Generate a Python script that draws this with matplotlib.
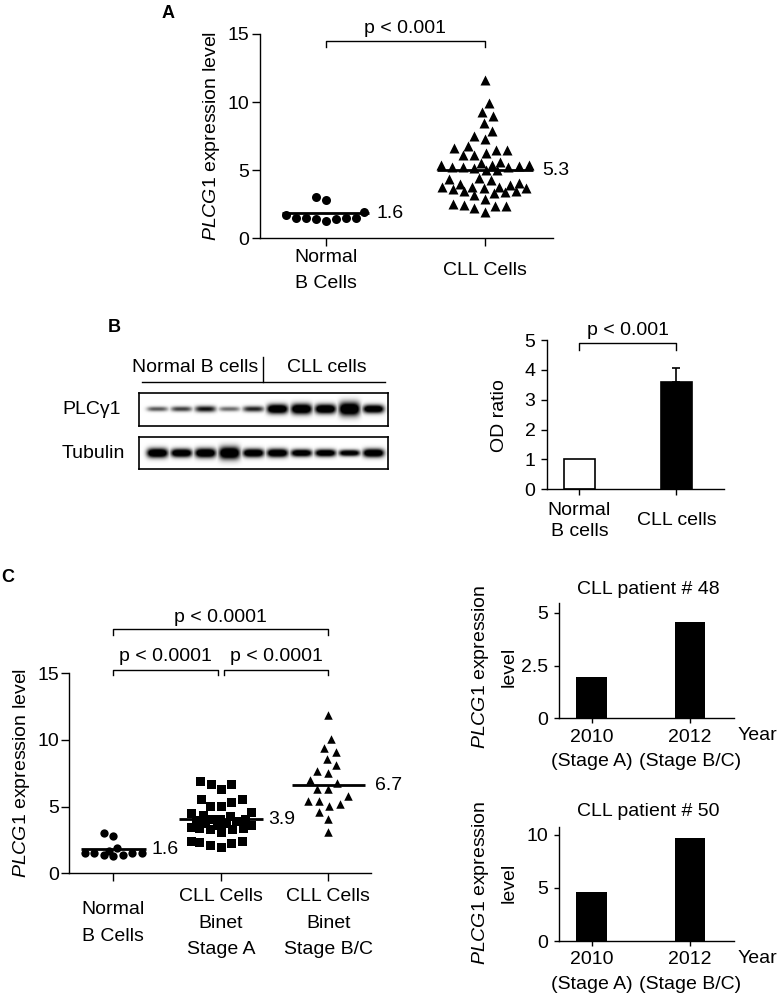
import numpy as np
import matplotlib
matplotlib.use('Agg')
import matplotlib.pyplot as plt
from matplotlib.transforms import blended_transform_factory

plt.rcParams['font.family'] = ['Liberation Sans', 'DejaVu Sans']
plt.rcParams['font.size'] = 14
plt.rcParams['mathtext.fontset'] = 'custom'
plt.rcParams['mathtext.rm'] = 'Liberation Sans'
plt.rcParams['mathtext.it'] = 'Liberation Sans:italic'
plt.rcParams['axes.linewidth'] = 1.0

W, H = 778, 1000

# ---- data ----
# panel A / C: PLCG1 expression level
normal_b = [1.9, 1.5, 1.5, 1.4, 1.3, 1.4, 1.5, 1.5, 1.7, 3.0, 2.8]
cll_all = [11.6, 9.9, 9.25, 8.95, 8.45, 7.9, 7.5, 7.3,
           6.8, 6.5, 6.25, 6.1, 6.1, 6.5, 6.6,
           5.6, 5.4, 5.3, 5.25, 5.2, 5.0, 5.0, 5.15, 5.25, 5.35, 5.4, 5.5,
           4.4, 4.25, 4.0, 3.8, 3.7, 3.7, 3.8, 3.9, 4.05, 4.35,
           3.75, 3.45, 3.4, 3.15, 3.6, 3.35, 3.45,
           2.85, 2.45, 2.5, 2.35, 2.4, 2.2, 1.95]
a_groups = ['Normal\nB Cells', 'CLL Cells']
a_lines = [1.85, 5.0]
a_line_labels = ['1.6', '5.3']

stage_a = [6.7, 6.3, 6.7, 6.95, 5.6, 5.05, 5.05, 5.35, 5.6, 4.55, 4.6,
           4.35, 4.05, 3.8, 3.8, 4.05, 4.1, 4.3, 3.9, 3.6, 3.65, 4.0,
           3.4, 3.3, 3.1, 3.3, 3.4, 3.5,
           2.4, 2.25, 1.95, 2.1, 2.35, 2.4]
stage_bc = [11.85, 10.05, 9.1, 9.4, 8.6, 8.1, 7.5, 7.65, 7.0, 6.8,
            6.35, 6.3, 5.8, 5.45, 5.45, 5.05, 5.2, 4.6, 4.1, 3.1]
c_groups = ['Normal\nB Cells', 'CLL Cells\nBinet\nStage A', 'CLL Cells\nBinet\nStage B/C']
c_lines = [1.8, 4.05, 6.62]
c_line_labels = ['1.6', '3.9', '6.7']

# panel B: blot band strength (0-1) per lane and OD ratio
lanes = ['N1', 'N2', 'N3', 'N4', 'N5', 'C1', 'C2', 'C3', 'C4', 'C5']
plc_level = [0.45, 0.52, 0.65, 0.4, 0.6, 1.0, 1.0, 1.0, 1.0, 0.95]
plc_thick = [2.3, 2.5, 3.0, 2.3, 2.8, 4.5, 5.0, 4.5, 6.5, 4.0]
tub_level = [1.0, 1.0, 1.0, 1.0, 1.0, 1.0, 0.95, 0.95, 0.9, 1.0]
tub_thick = [4.5, 4.0, 4.5, 6.0, 4.0, 4.0, 3.5, 3.5, 3.0, 4.0]
od_groups = ['Normal\nB cells', 'CLL cells']
od_mean = [1.0, 3.6]
od_err = [0.0, 0.45]

# panel C right: single patients
years = ['2010', '2012']
stages = ['(Stage A)', '(Stage B/C)']
patient48 = [1.94, 4.58]
patient50 = [4.65, 9.69]

fig = plt.figure(figsize=(W / 100, H / 100), dpi=100)


def axes_px(x0, y0, x1, y1):
    return fig.add_axes([x0 / W, 1 - y1 / H, (x1 - x0) / W, (y1 - y0) / H])


def style(ax, tick_len, xpad, ypad):
    for s in ['top', 'right']:
        ax.spines[s].set_visible(False)
    ax.tick_params(direction='out', width=1.0, color='black')
    ax.tick_params(axis='x', length=tick_len, pad=xpad)
    ax.tick_params(axis='y', length=tick_len, pad=ypad)


def swarm_x(ax, xc, vals, d, maxw):
    # beeswarm in pixel space, kept within +-maxw pixels
    vals = np.asarray(vals, float)
    pts = ax.transData.transform(np.column_stack([np.full(len(vals), xc), vals]))
    grid = np.arange(-maxw, maxw + 0.01, 0.5)
    placed = []
    off = np.zeros(len(vals))
    for i in np.argsort(vals):
        y = pts[i, 1]
        near = np.array([(px, py) for px, py in placed if abs(py - y) < d]).reshape(-1, 2)
        if len(near) == 0:
            c = 0.0
        else:
            dist = np.sqrt((grid[:, None] - near[None, :, 0]) ** 2 +
                           (y - near[None, :, 1]) ** 2).min(axis=1)
            ok = dist >= d - 1e-6
            if ok.any():
                c = grid[ok][np.argmin(np.abs(grid[ok]))]
            else:
                c = grid[np.argmax(dist)]
        placed.append((c, y))
        off[i] = c
    back = ax.transData.inverted().transform(np.column_stack([pts[:, 0] + off, pts[:, 1]]))
    return back[:, 0]


def swarm_group(ax, xc, vals, marker, size_px, d, maxw):
    xs = swarm_x(ax, xc, vals, d, maxw)
    ax.scatter(xs, vals, marker=marker, s=(size_px * 0.72) ** 2, color='black',
               linewidths=0, clip_on=False, zorder=3)


def median(ax, xc, hw, m, label, gap):
    ax.plot([xc - hw, xc + hw], [m, m], color='black', lw=2.0,
            solid_capstyle='butt', zorder=4, clip_on=False)
    ax.annotate(label, (xc + hw, m), xytext=(gap, 0), textcoords='offset points',
                ha='left', va='center', annotation_clip=False)


def bracket(ax, x0, x1, y, drop, text, ty):
    ax.plot([x0, x0, x1, x1], [y - drop, y, y, y - drop], color='black', lw=1.0,
            clip_on=False)
    ax.text((x0 + x1) / 2, ty, text, ha='center', va='baseline', clip_on=False)


# ---- panel A ----
axA = axes_px(260, 34, 553, 238.3)
axA.set_xlim(-0.4124, 1.427)
axA.set_ylim(0, 15)
style(axA, 6, 17.5, 1.5)
axA.set_yticks([0, 5, 10, 15])
axA.set_xticks([0, 1])
axA.set_xticklabels(a_groups, va='center', linespacing=1.7)
swarm_group(axA, 0, normal_b, 'o', 9, 10, 42)
swarm_group(axA, 1, cll_all, '^', 10, 11, 44)
median(axA, 0, 0.275, a_lines[0], a_line_labels[0], 5)
median(axA, 1, 0.3, a_lines[1], a_line_labels[1], 7)
bracket(axA, 0, 1, 14.45, 0.37, 'p < 0.001', 15.07)

# ---- panel B: blot ----
img_w, img_h = 249, 32
xx = np.arange(img_w)[None, :]
yy = np.arange(img_h)[:, None]
lane_x = 18 + 24 * np.arange(len(lanes))


def blot(levels, thick, yc):
    img = np.zeros((img_h, img_w))
    for c, lv, th in zip(lane_x, levels, thick):
        img = np.maximum(img, lv * np.exp(-((xx - c) / 10.5) ** 4 - ((yy - yc) / th) ** 2))
    return np.clip(img * 1.5, 0, 1)


for (y0, y1), lv, th, yc in [((393.3, 425.7), plc_level, plc_thick, 15),
                             ((436.7, 469.3), tub_level, tub_thick, 16)]:
    axb = axes_px(139, y0, 387.7, y1)
    axb.imshow(blot(lv, th, yc), cmap='gray_r', vmin=0, vmax=1, aspect='auto',
               interpolation='bilinear', extent=[0, img_w, img_h, 0])
    axb.set_xticks([])
    axb.set_yticks([])
    for s in axb.spines.values():
        s.set_linewidth(1.2)

# ---- panel B: OD ratio ----
axB = axes_px(547.3, 340, 724, 489.3)
axB.set_xlim(-0.332, 1.49)
axB.set_ylim(0, 5)
style(axB, 4, 18.7, 4.5)
axB.set_yticks(range(6))
axB.set_xticks([0, 1])
axB.set_xticklabels(od_groups, va='center', linespacing=1.3)
axB.bar([0, 1], od_mean, width=0.31, color=['white', 'black'], edgecolor='black',
        linewidth=1.2, zorder=2)
for i, (m, e) in enumerate(zip(od_mean, od_err)):
    if e > 0:
        axB.errorbar(i, m, yerr=[[0], [e]], color='black', capsize=2.6,
                     elinewidth=1.2, capthick=1.2, zorder=3)
bracket(axB, 0, 1, 4.9, 0.24, 'p < 0.001', 5.16)

# ---- panel C: scatter ----
axC = axes_px(69.3, 673.3, 370.7, 873.3)
axC.set_xlim(-0.409, 2.394)
axC.set_ylim(0, 15)
style(axC, 5.5, 30.3, 1.5)
axC.set_yticks([0, 5, 10, 15])
axC.set_xticks([0, 1, 2])
axC.set_xticklabels(c_groups, va='center', linespacing=1.75)
swarm_group(axC, 0, normal_b, 'o', 8.3, 9.5, 31)
swarm_group(axC, 1, stage_a, 's', 9, 11, 30)
swarm_group(axC, 2, stage_bc, '^', 8.5, 11, 22)
median(axC, 0, 0.3, c_lines[0], c_line_labels[0], 4)
median(axC, 1, 0.39, c_lines[1], c_line_labels[1], 4)
median(axC, 2, 0.34, c_lines[2], c_line_labels[2], 7)
bracket(axC, 0, 0.97, 15.25, 0.37, 'p < 0.0001', 15.93)
bracket(axC, 1.03, 2.0, 15.25, 0.37, 'p < 0.0001', 15.93)
bracket(axC, 0, 2.0, 18.3, 0.42, 'p < 0.0001', 18.87)

# ---- panel C: patients ----
for (y0, y1), vals, top, ticks, tlabels in [
        ((603.3, 718.3), patient48, 5.45, [0, 2.5, 5], ['0', '2.5', '5']),
        ((826.7, 941), patient50, 10.78, [0, 5, 10], ['0', '5', '10'])]:
    axp = axes_px(559.3, y0, 734, y1)
    axp.set_xlim(-0.33, 1.448)
    axp.set_ylim(0, top)
    style(axp, 3.5, 10, 4.5)
    axp.set_yticks(ticks)
    axp.set_yticklabels(tlabels)
    axp.set_xticks([0, 1])
    axp.set_xticklabels(years, va='center')
    tr = blended_transform_factory(axp.transData, axp.transAxes)
    for i, st in enumerate(stages):
        axp.text(i, -(43.4 / (y1 - y0)), st, transform=tr, ha='center', va='center')
    axp.bar([0, 1], vals, width=0.315, color='black', zorder=2)

# ---- overlay text in pixel coordinates ----
ov = fig.add_axes([0, 0, 1, 1])
ov.set_xlim(0, W)
ov.set_ylim(H, 0)
ov.axis('off')
ov.patch.set_visible(False)

ov.text(168, 13, 'A', weight='bold', fontsize=13, ha='center', va='center')
ov.text(114, 327, 'B', weight='bold', fontsize=13, ha='center', va='center')
ov.text(8, 578, 'C', weight='bold', fontsize=13, ha='center', va='center')

ylab = r'$\it{PLCG1}$ expression level'
ov.text(211.7, 136, ylab, rotation=90, ha='center', va='center')
ov.text(21.7, 773, ylab, rotation=90, ha='center', va='center')
ov.text(500, 416, 'OD ratio', rotation=90, ha='center', va='center')
ylab2 = r'$\it{PLCG1}$ expression' + '\nlevel'
ov.text(493.7, 666.7, ylab2, rotation=90, ha='center', va='center',
        multialignment='center', linespacing=1.7)
ov.text(493.7, 883, ylab2, rotation=90, ha='center', va='center',
        multialignment='center', linespacing=1.7)

ov.text(648.3, 589.3, 'CLL patient # 48', ha='center', va='center')
ov.text(648.3, 811.7, 'CLL patient # 50', ha='center', va='center')
ov.text(737.5, 735, 'Year', ha='left', va='center')
ov.text(737.5, 958.3, 'Year', ha='left', va='center')

# blot header and row labels
ov.text(195.4, 367.7, 'Normal B cells', ha='center', va='center')
ov.text(326.7, 367.7, 'CLL cells', ha='center', va='center')
ov.plot([141.7, 385], [382.3, 382.3], color='black', lw=1.0)
ov.plot([262.7, 262.7], [357, 382.3], color='black', lw=1.0)
ov.text(62, 409.5, 'PLC\u03b31', ha='left', va='center')
ov.text(62, 453, 'Tubulin', ha='left', va='center')

fig.savefig('out.png', dpi=100)
